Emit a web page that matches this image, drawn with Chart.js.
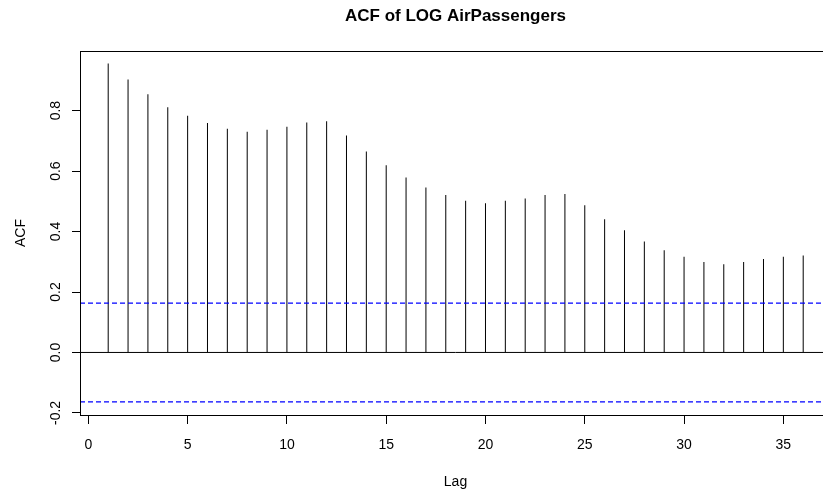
<!DOCTYPE html>
<html>
<head>
<meta charset="utf-8">
<script src="https://cdn.jsdelivr.net/npm/chart.js@4.4.1/dist/chart.umd.min.js"></script>
<style>
    html, body { margin: 0; padding: 0; background: #fff; overflow: hidden; }
    #wrap { width: 840px; height: 494px; }
</style>
</head>
<body>
<div id="wrap"><canvas id="acfChart" width="840" height="494"></canvas></div>
<script>
// Lags and ACF values
const lags = [1, 2, 3, 4, 5, 6, 7, 8, 9, 10, 11, 12, 13, 14, 15, 16, 17, 18,
    19, 20, 21, 22, 23, 24, 25, 26, 27, 28, 29, 30, 31, 32, 33, 34, 35, 36];
const acfValues = [0.956, 0.903, 0.854, 0.811, 0.783, 0.759, 0.740, 0.730, 0.737,
    0.747, 0.761, 0.765, 0.718, 0.665, 0.619, 0.579, 0.546, 0.521,
    0.502, 0.494, 0.502, 0.509, 0.521, 0.524, 0.487, 0.441, 0.404,
    0.367, 0.338, 0.317, 0.299, 0.292, 0.299, 0.309, 0.317, 0.321];
const ciBound = 0.1633;
const xTicks = [0, 5, 10, 15, 20, 25, 30, 35];
const yTicks = [-0.2, 0.0, 0.2, 0.4, 0.6, 0.8];
const xRange = [-0.42, 37.4];
const yRange = [-0.2069, 0.9973];

const FONT = "'Liberation Sans', Arial, sans-serif";

// R-style text: title, axis titles, tick labels and the plot box
const rStyle = {
    id: "rStyle",
    afterDraw(chart) {
        const ctx = chart.ctx;
        const area = chart.chartArea;
        const xs = chart.scales.x;
        const ys = chart.scales.y;

        ctx.save();
        ctx.strokeStyle = "#000";
        ctx.lineWidth = 1;
        ctx.strokeRect(Math.round(area.left) + 0.5, Math.round(area.top) + 0.5,
            Math.round(area.right - area.left), Math.round(area.bottom - area.top));

        ctx.fillStyle = "#000";
        ctx.font = "14px " + FONT;
        ctx.textAlign = "center";
        ctx.textBaseline = "alphabetic";
        xs.ticks.forEach(t => {
            ctx.fillText(String(t.value), xs.getPixelForValue(t.value), 449);
        });
        ctx.fillText("Lag", (area.left + area.right) / 2, 486);

        ys.ticks.forEach(t => {
            ctx.save();
            ctx.translate(60, ys.getPixelForValue(t.value));
            ctx.rotate(-Math.PI / 2);
            ctx.fillText(t.value.toFixed(1), 0, 0);
            ctx.restore();
        });
        ctx.save();
        ctx.translate(25, (area.top + area.bottom) / 2);
        ctx.rotate(-Math.PI / 2);
        ctx.fillText("ACF", 0, 0);
        ctx.restore();

        ctx.font = "bold 17px " + FONT;
        ctx.fillText("ACF of LOG AirPassengers", (area.left + area.right) / 2, 21);
        ctx.restore();
    }
};

const ctx = document.getElementById("acfChart").getContext("2d");
new Chart(ctx, {
    type: "bar",
    data: {
        datasets: [
            {
                type: "bar",
                data: lags.map((l, i) => ({ x: l, y: acfValues[i] })),
                backgroundColor: "#000",
                barThickness: 1,
                inflateAmount: 0,
                order: 2
            },
            {
                type: "line",
                data: [{ x: xRange[0], y: 0 }, { x: xRange[1], y: 0 }],
                borderColor: "#000",
                borderWidth: 1,
                pointRadius: 0,
                order: 1
            },
            {
                type: "line",
                data: [{ x: xRange[0], y: ciBound }, { x: xRange[1], y: ciBound }],
                borderColor: "#0000ff",
                borderWidth: 1.2,
                borderDash: [5, 3],
                pointRadius: 0,
                order: 1
            },
            {
                type: "line",
                data: [{ x: xRange[0], y: -ciBound }, { x: xRange[1], y: -ciBound }],
                borderColor: "#0000ff",
                borderWidth: 1.2,
                borderDash: [5, 3],
                pointRadius: 0,
                order: 1
            }
        ]
    },
    options: {
        responsive: false,
        animation: false,
        layout: { padding: { left: 72, top: 51, right: 9, bottom: 70 } },
        plugins: {
            legend: { display: false },
            tooltip: { enabled: false },
            title: { display: false }
        },
        scales: {
            x: {
                type: "linear",
                min: xRange[0],
                max: xRange[1],
                offset: false,
                afterBuildTicks: scale => { scale.ticks = xTicks.map(v => ({ value: v })); },
                ticks: { display: false },
                grid: { drawOnChartArea: false, offset: false, tickLength: 9, color: "#000" },
                border: { display: false }
            },
            y: {
                type: "linear",
                min: yRange[0],
                max: yRange[1],
                afterBuildTicks: scale => { scale.ticks = yTicks.map(v => ({ value: v })); },
                ticks: { display: false },
                grid: { drawOnChartArea: false, tickLength: 8, color: "#000" },
                border: { display: false }
            }
        }
    },
    plugins: [rStyle]
});
</script>
</body>
</html>
